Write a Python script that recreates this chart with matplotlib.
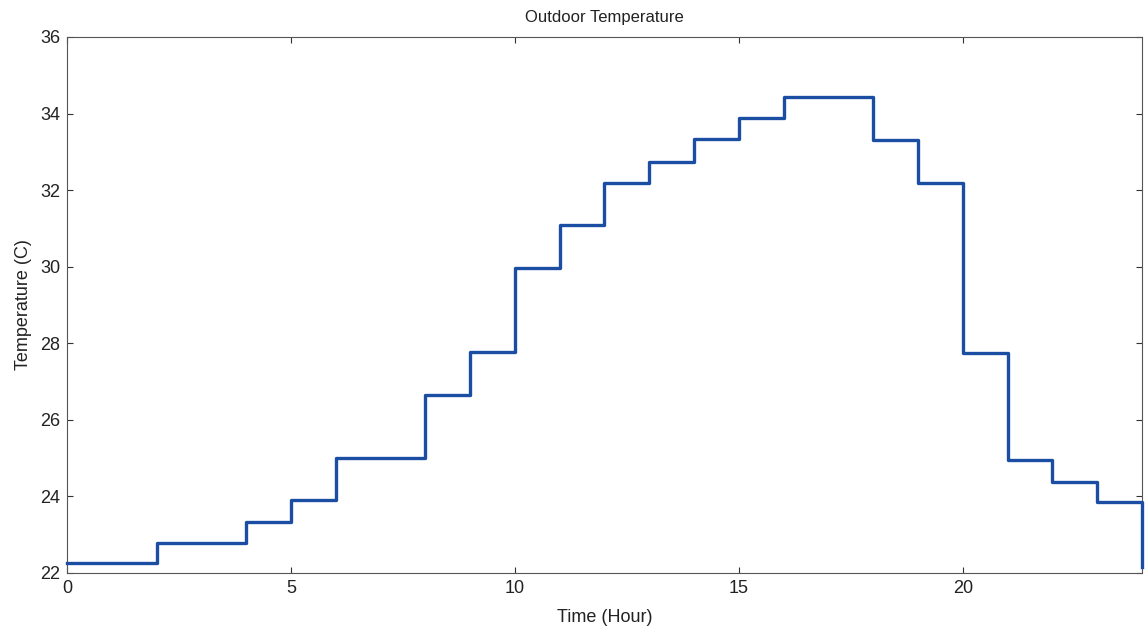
import matplotlib.pyplot as plt

plt.rcParams['font.family'] = ['Liberation Sans', 'DejaVu Sans']

# hourly outdoor temperature (step at start of each hour), last point closes at hour 24
hours = list(range(25))
temps = [22.26, 22.26, 22.78, 22.78, 23.33, 23.90, 25.00, 25.00, 26.65, 27.77,
         29.96, 31.10, 32.18, 32.73, 33.33, 33.88, 34.43, 34.43, 33.30, 32.18,
         27.74, 24.95, 24.38, 23.85, 22.16]
xticks = [0, 5, 10, 15, 20]
yticks = [22, 24, 26, 28, 30, 32, 34, 36]

fig = plt.figure(figsize=(11.47, 6.3), dpi=100)
ax = fig.add_axes([0.0584, 0.0905, 0.9372, 0.8508])

ax.step(hours, temps, where='post', color='#1b4ea3', linewidth=2.4,
        clip_on=False, zorder=3)

ax.set_xlim(0, 24)
ax.set_ylim(22, 36)
ax.set_xticks(xticks)
ax.set_yticks(yticks)
ax.tick_params(direction='in', length=4, width=0.8, top=True, right=True,
               labelsize=13, colors='#333333', labelcolor='#222222', pad=5)
for s in ax.spines.values():
    s.set_color('#555555')
    s.set_linewidth(0.8)

ax.set_title('Outdoor Temperature', fontsize=12, color='#222222', pad=11)
ax.set_xlabel('Time (Hour)', fontsize=13, color='#222222', labelpad=9)
ax.set_ylabel('Temperature (C)', fontsize=13, color='#222222', labelpad=6)

fig.savefig('out.png', dpi=100)
